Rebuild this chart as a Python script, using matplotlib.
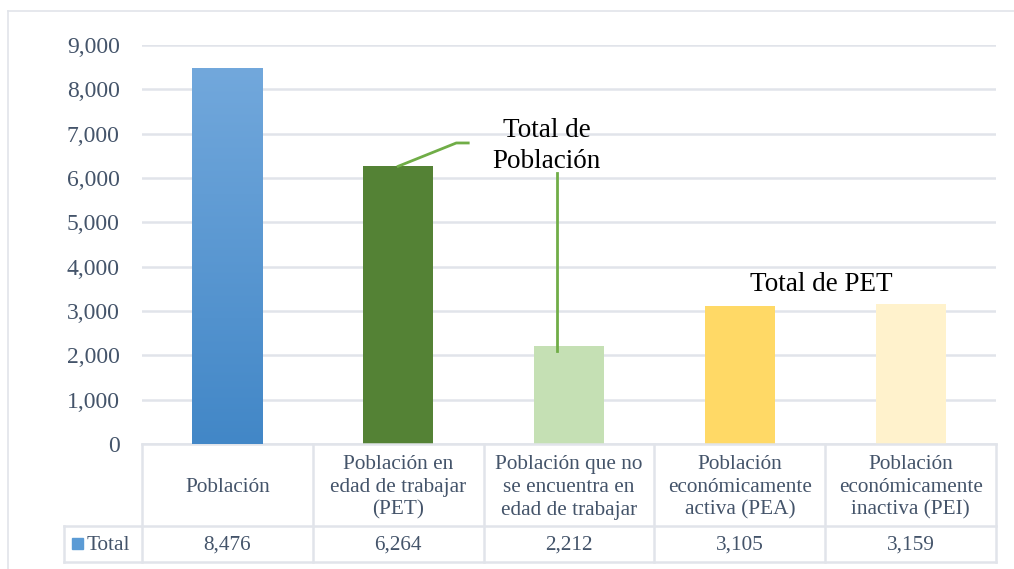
import numpy as np
import matplotlib.pyplot as plt
from matplotlib.transforms import blended_transform_factory
from matplotlib.patches import Rectangle
from matplotlib.colors import LinearSegmentedColormap

categories = ['Población',
              'Población en\nedad de trabajar\n(PET)',
              'Población que no\nse encuentra en\nedad de trabajar',
              'Población\neconómicamente\nactiva (PEA)',
              'Población\neconómicamente\ninactiva (PEI)']
values = [8476, 6264, 2212, 3105, 3159]
value_labels = ['8,476', '6,264', '2,212', '3,105', '3,159']
series_name = 'Total'
yticks = [0, 1000, 2000, 3000, 4000, 5000, 6000, 7000, 8000, 9000]

colors = ['#5B9BD5', '#548235', '#C5E0B4', '#FFD966', '#FFF2CC']
text_col = '#44546A'
grid_col = '#E1E4EA'
serif = ['Liberation Serif', 'DejaVu Serif']
plt.rcParams['font.family'] = serif

W, H = 1014, 569
fig = plt.figure(figsize=(W / 100, H / 100), dpi=100)
fx = lambda px: px / W
fy = lambda py: 1 - py / H

ax = fig.add_axes([fx(142), fy(444), fx(996) - fx(142), fy(45) - fy(444)])
ax.set_xlim(-0.5, len(values) - 0.5)
ax.set_ylim(0, 9000)
x = np.arange(len(values))
bw = 0.41

# bars (first one with vertical gradient)
bars = ax.bar(x, values, width=bw, color=colors, zorder=2)
b0 = bars[0]
grad = np.linspace(0, 1, 256).reshape(-1, 1)
cmap = LinearSegmentedColormap.from_list('g', ['#4287C7', '#72A8DC'])
im = ax.imshow(grad, cmap=cmap, aspect='auto', origin='lower', zorder=2.5,
               extent=[b0.get_x(), b0.get_x() + b0.get_width(), 0, b0.get_height()])
im.set_clip_path(b0)

ax.set_yticks(yticks)
ax.set_yticklabels(['{:,}'.format(v) for v in yticks], family=serif)
ax.yaxis.grid(True, color=grid_col, linewidth=1.8, zorder=0)
ax.set_axisbelow(True)
ax.set_xticks([])
for s in ax.spines.values():
    s.set_visible(False)
ax.tick_params(axis='y', length=0, pad=16, labelsize=17, labelcolor=text_col)

# data table
tr = blended_transform_factory(ax.transData, fig.transFigure)
lw = 1.8
edges = np.arange(len(values) + 1) - 0.5
for e in edges:
    ax.plot([e, e], [fy(444), fy(562)], transform=tr, color=grid_col,
            linewidth=lw, clip_on=False)
ax.plot([edges[0], edges[-1]], [fy(444), fy(444)], transform=tr, color=grid_col,
        linewidth=lw, clip_on=False)
fig.add_artist(plt.Line2D([fx(64), fx(996)], [fy(526), fy(526)], color=grid_col, linewidth=lw))
fig.add_artist(plt.Line2D([fx(64), fx(996)], [fy(562), fy(562)], color=grid_col, linewidth=lw))
fig.add_artist(plt.Line2D([fx(64), fx(64)], [fy(526), fy(562)], color=grid_col, linewidth=lw))

for i, (c, v) in enumerate(zip(categories, value_labels)):
    ax.text(i, fy(487.5), c, transform=tr, ha='center', va='center', fontsize=15.3,
            color=text_col, linespacing=1.27, family=serif)
    ax.text(i, fy(545), v, transform=tr, ha='center', va='center', fontsize=15.3,
            color=text_col, family=serif)

fig.add_artist(Rectangle((fx(72), fy(549)), fx(83) - fx(72), fy(538) - fy(549),
                         color='#5B9BD5', transform=fig.transFigure))
fig.text(fx(87), fy(545), series_name, ha='left', va='center', fontsize=15.3,
         color=text_col, family=serif)

# outer frame (top and left only visible)
fig.add_artist(plt.Line2D([fx(8), 1], [fy(11), fy(11)], color=grid_col, linewidth=1.2))
fig.add_artist(plt.Line2D([fx(8), fx(8)], [fy(11), 0], color=grid_col, linewidth=1.2))

# annotations
line_col = '#70AD47'
ax.plot([1.0, 1.34, 1.41], [values[1], 6790, 6790], color=line_col, linewidth=2,
        clip_on=False, zorder=3)
ax.text(1.87, 6720, 'Total de\nPoblación', ha='center', va='center', fontsize=19.5,
        color='black', linespacing=1.32, family=serif)
ax.plot([1.93, 1.93], [6110, 2100], color=line_col, linewidth=2, zorder=3)
ax.text(3.48, 3590, 'Total de PET', ha='center', va='center', fontsize=19.5,
        color='black', family=serif)

fig.savefig('out.png', dpi=100)
